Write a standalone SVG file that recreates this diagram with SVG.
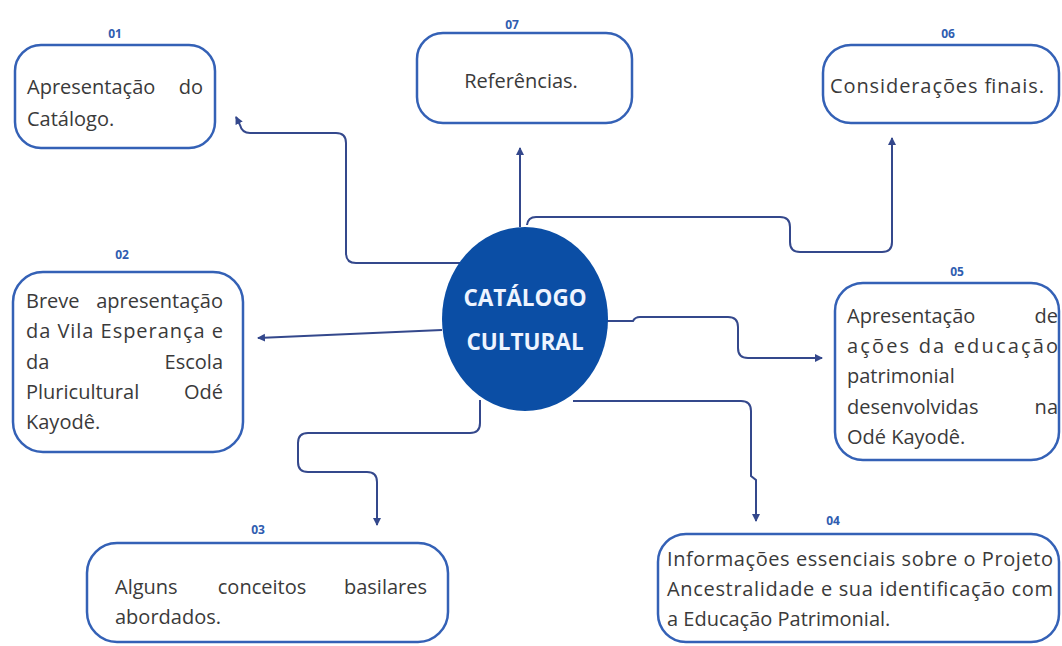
<svg xmlns="http://www.w3.org/2000/svg" width="1062" height="646" viewBox="0 0 1062 646">
<defs>
<marker id="ah" markerUnits="userSpaceOnUse" markerWidth="10" markerHeight="10" refX="7" refY="4" orient="auto">
<path d="M0,0 L8,4 L0,8 Z" fill="#34488c"/>
</marker>
<style>
.box{fill:#ffffff;stroke:#3461b6;stroke-width:2.5}
.t{font-family:"Open Sans","Liberation Sans",sans-serif;font-size:20px;fill:#3a3a3a}
.n{font-family:"Open Sans","Liberation Sans",sans-serif;font-size:12px;font-weight:bold;fill:#2f5db0;text-anchor:middle}
.c{fill:none;stroke:#34488c;stroke-width:2}
.ct{font-family:"Open Sans","Liberation Sans",sans-serif;font-size:22.5px;font-weight:bold;fill:#eef4ff;text-anchor:middle}
.e{text-anchor:end}
.m{text-anchor:middle}
</style>
</defs>
<rect width="1062" height="646" fill="#ffffff"/>
<g id="connectors">
<path class="c" marker-end="url(#ah)" d="M460,263 H356 Q346,263 346,253 V143 Q346,133 336,133 H250 Q242,133 240,125 L236,117"/>
<path class="c" marker-end="url(#ah)" d="M520,227 V148"/>
<path class="c" marker-end="url(#ah)" d="M527,225 Q528,217 536,217 H780 Q790,217 790,227 V242 Q790,252 800,252 H882 Q892,252 892,242 V138"/>
<path class="c" marker-end="url(#ah)" d="M442,330 L258,338"/>
<path class="c" marker-end="url(#ah)" d="M607,321 H633 Q635,317 640,317 H728 Q738,317 738,327 V348 Q738,358 748,358 H822"/>
<path class="c" marker-end="url(#ah)" d="M573,401 H741 Q751,401 751,411 V476 L756,480 V521"/>
<path class="c" marker-end="url(#ah)" d="M480,400 V423 Q480,433 470,433 H308 Q298,433 298,443 V462 Q298,472 308,472 H367 Q377,472 377,482 V525"/>
</g>
<g id="center">
<ellipse cx="525" cy="319" rx="83" ry="92" fill="#0b4ea5"/>
<text class="ct" x="525" y="306">CATÁLOGO</text>
<text class="ct" x="525" y="350">CULTURAL</text>
</g>
<g id="n01">
<text class="n" x="115" y="38">01</text>
<rect class="box" x="15" y="45" width="200" height="103" rx="26"/>
<text class="t" x="27" y="94">Apresentação</text>
<text class="t e" x="203" y="94">do</text>
<text class="t" x="27" y="126">Catálogo.</text>
</g>
<g id="n07">
<text class="n" x="512" y="29">07</text>
<rect class="box" x="417" y="33" width="215" height="90" rx="26"/>
<text class="t m" x="521" y="88">Referências.</text>
</g>
<g id="n06">
<text class="n" x="948" y="38">06</text>
<rect class="box" x="823" y="45" width="236" height="78" rx="28"/>
<text class="t" x="830" y="93" textLength="214">Considerações finais.</text>
</g>
<g id="n02">
<text class="n" x="122" y="259">02</text>
<rect class="box" x="13" y="272" width="230" height="180" rx="30"/>
<text class="t" x="26" y="308">Breve</text>
<text class="t e" x="223" y="308">apresentação</text>
<text class="t" x="26" y="338" textLength="197">da Vila Esperança e</text>
<text class="t" x="26" y="369">da</text>
<text class="t e" x="223" y="369">Escola</text>
<text class="t" x="26" y="399">Pluricultural</text>
<text class="t e" x="223" y="399">Odé</text>
<text class="t" x="26" y="429">Kayodê.</text>
</g>
<g id="n05">
<text class="n" x="957" y="276">05</text>
<rect class="box" x="835" y="283" width="224" height="177" rx="28"/>
<text class="t" x="847" y="323">Apresentação</text>
<text class="t e" x="1058" y="323">de</text>
<text class="t" x="847" y="353" textLength="211">ações da educação</text>
<text class="t" x="847" y="383">patrimonial</text>
<text class="t" x="847" y="414">desenvolvidas</text>
<text class="t e" x="1058" y="414">na</text>
<text class="t" x="847" y="444">Odé Kayodê.</text>
</g>
<g id="n03">
<text class="n" x="258" y="534">03</text>
<rect class="box" x="87" y="543" width="361" height="99" rx="30"/>
<text class="t" x="115" y="594">Alguns</text>
<text class="t m" x="262" y="594">conceitos</text>
<text class="t e" x="427" y="594">basilares</text>
<text class="t" x="115" y="624">abordados.</text>
</g>
<g id="n04">
<text class="n" x="833" y="525">04</text>
<rect class="box" x="658" y="534" width="401" height="108" rx="28"/>
<text class="t" x="667" y="566" textLength="386">Informações essenciais sobre o Projeto</text>
<text class="t" x="667" y="596" textLength="386">Ancestralidade e sua identificação com</text>
<text class="t" x="667" y="626">a Educação Patrimonial.</text>
</g>
</svg>
